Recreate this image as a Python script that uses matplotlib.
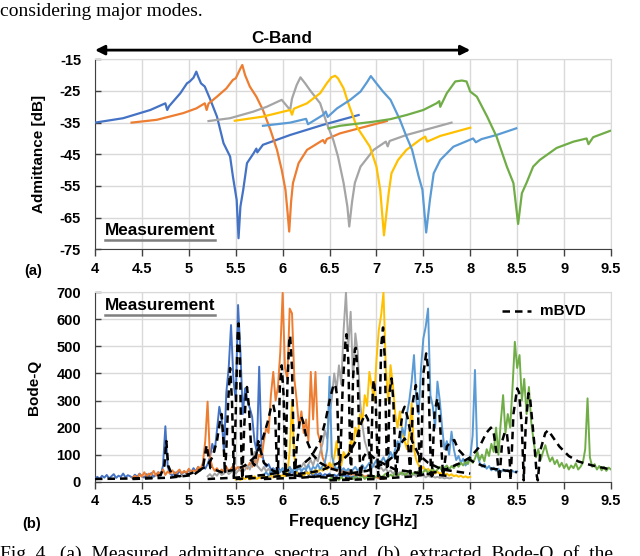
import numpy as np
import matplotlib
matplotlib.use('Agg')
import matplotlib.pyplot as plt

# ---------------- data ----------------
C_BLUE = '#4472C4'; C_ORANGE = '#ED7D31'; C_GRAY = '#A5A5A5'
C_YELLOW = '#FFC000'; C_LBLUE = '#5B9BD5'; C_GREEN = '#70AD47'

# (a) admittance [dB] vs frequency [GHz]
adm_f1 = [4.00, 4.30, 4.59, 4.75, 4.77, 4.79, 4.91, 4.98, 5.01, 5.05, 5.08, 5.10, 5.13, 5.17, 5.23, 5.30, 5.37, 5.44, 5.47, 5.51, 5.53, 5.55, 5.58, 5.62, 5.69, 5.72, 5.73, 5.79, 6.08, 6.43, 6.81]
adm_y1 = [-35.0, -33.6, -31.0, -28.9, -31.0, -29.8, -25.7, -22.6, -22.0, -20.8, -18.9, -20.5, -22.6, -23.6, -27.8, -33.1, -41.5, -45.7, -52.0, -59.4, -71.5, -61.5, -56.2, -47.8, -44.7, -43.2, -44.4, -42.0, -38.9, -35.7, -32.6]
adm_f2 = [4.39, 4.66, 4.94, 5.08, 5.17, 5.19, 5.21, 5.30, 5.40, 5.47, 5.50, 5.55, 5.57, 5.60, 5.65, 5.72, 5.79, 5.87, 5.94, 5.99, 6.03, 6.05, 6.07, 6.09, 6.11, 6.17, 6.26, 6.43, 6.45, 6.47, 6.61, 6.93, 7.11]
adm_y2 = [-35.0, -34.1, -32.0, -30.5, -28.9, -31.0, -29.0, -26.8, -24.2, -21.5, -21.0, -17.9, -16.8, -20.0, -23.6, -26.8, -31.0, -37.3, -43.6, -49.9, -56.2, -62.5, -69.4, -60.0, -54.1, -47.8, -43.6, -40.5, -41.5, -40.2, -38.4, -35.9, -34.5]
adm_f3 = [5.21, 5.44, 5.69, 5.83, 5.99, 6.08, 6.10, 6.15, 6.19, 6.24, 6.29, 6.40, 6.47, 6.54, 6.59, 6.65, 6.69, 6.71, 6.74, 6.77, 6.83, 6.97, 7.10, 7.12, 7.14, 7.32, 7.80]
adm_y3 = [-34.5, -33.6, -31.5, -30.0, -27.8, -31.0, -27.4, -23.1, -20.7, -22.6, -24.7, -28.9, -35.2, -40.5, -45.7, -54.1, -61.5, -67.8, -60.0, -54.0, -48.9, -43.6, -41.0, -42.5, -40.8, -38.9, -35.0]
adm_f4 = [5.49, 5.79, 6.08, 6.10, 6.12, 6.26, 6.40, 6.47, 6.52, 6.56, 6.59, 6.65, 6.70, 6.79, 6.93, 7.00, 7.04, 7.08, 7.13, 7.16, 7.23, 7.32, 7.46, 7.52, 7.54, 7.68, 8.00]
adm_y4 = [-34.4, -33.1, -31.0, -32.5, -30.6, -28.9, -25.7, -22.6, -20.7, -20.2, -21.0, -24.2, -28.9, -36.3, -42.6, -48.9, -56.2, -70.6, -57.3, -51.0, -46.8, -43.6, -40.5, -39.4, -41.0, -39.2, -36.6]
adm_f5 = [5.79, 6.08, 6.25, 6.27, 6.43, 6.46, 6.48, 6.58, 6.72, 6.83, 6.90, 6.94, 7.00, 7.07, 7.15, 7.25, 7.32, 7.38, 7.45, 7.49, 7.53, 7.57, 7.61, 7.68, 7.82, 8.03, 8.06, 8.12, 8.28, 8.49]
adm_y5 = [-36.0, -35.0, -33.8, -35.5, -32.6, -31.5, -33.2, -30.5, -27.8, -25.2, -22.2, -20.3, -22.6, -25.2, -27.8, -34.1, -39.4, -43.6, -52.0, -56.2, -69.7, -59.4, -51.0, -46.8, -42.6, -40.0, -41.2, -40.2, -38.9, -36.8]
adm_f6 = [6.49, 6.61, 6.97, 7.15, 7.32, 7.50, 7.64, 7.67, 7.68, 7.75, 7.84, 7.91, 7.96, 8.00, 8.07, 8.18, 8.28, 8.39, 8.46, 8.51, 8.55, 8.60, 8.67, 8.74, 8.92, 9.10, 9.24, 9.26, 9.31, 9.49]
adm_y6 = [-36.8, -36.0, -34.7, -33.9, -32.6, -31.0, -28.9, -28.2, -30.0, -25.7, -22.0, -21.7, -22.0, -25.2, -26.8, -33.1, -39.4, -48.9, -54.1, -67.0, -57.3, -54.0, -48.9, -46.8, -43.0, -41.0, -40.0, -41.8, -39.6, -37.6]

# (b) measured Bode-Q (sweep start, step, values)
q_step = 0.025
q1_start = 4.00
q1 = [12, 18, 10, 22, 15, 25, 12, 20, 28, 14, 22, 18, 30, 16, 24, 20, 14, 26, 18, 30,
      20, 15, 28, 22, 32, 18, 26, 35, 22, 60, 205, 55, 30, 22, 35, 25, 40, 28, 38, 30,
      45, 35, 50, 38, 55, 42, 60, 48, 65, 90, 140, 110, 190, 277, 230, 110, 330, 420, 579, 380,
      300, 653, 480, 250, 345, 300, 272, 240, 150, 110, 425, 120, 70, 55, 65, 45, 50, 38, 55, 40,
      48, 35, 45, 30, 42, 28, 38, 25, 35, 30, 40, 26, 34, 22, 30, 25, 32, 20, 28, 24,
      30, 18, 26, 20, 28, 16, 24, 20, 22, 15, 20, 18, 16]
q2_start = 4.40
q2 = [15, 22, 12, 28, 18, 35, 20, 30, 25, 40, 22, 35, 28, 45, 25, 38, 30, 42, 28, 36,
      45, 30, 40, 32, 48, 35, 42, 38, 55, 45, 70, 150, 296, 90, 55, 40, 50, 35, 45, 38,
      55, 40, 48, 60, 45, 55, 40, 50, 62, 48, 70, 55, 80, 65, 100, 90, 150, 200, 180, 320,
      406, 300, 350, 480, 698, 420, 380, 640, 622, 380, 300, 200, 260, 180, 230, 150, 406, 230, 406, 180,
      150, 90, 70, 55, 65, 45, 55, 40, 50, 35, 42, 30, 38, 25, 32, 22, 28, 20, 25, 18,
      22, 15, 20, 14, 18, 12, 16, 10, 14]
q3_start = 5.20
q3 = [20, 28, 18, 30, 22, 35, 25, 30, 40, 28, 35, 45, 30, 40, 50, 35, 45, 60, 45, 70,
      110, 60, 50, 40, 55, 38, 48, 35, 45, 30, 42, 35, 50, 38, 45, 55, 40, 50, 60, 45,
      55, 70, 50, 65, 80, 60, 90, 75, 110, 140, 190, 160, 250, 310, 400, 340, 430, 360, 560, 700,
      500, 628, 380, 548, 480, 300, 210, 150, 120, 85, 70, 55, 60, 45, 52, 40, 48, 35, 42, 30,
      38, 28, 35, 25, 32, 22, 30, 20, 28, 18, 25, 20, 24, 16, 22, 18, 20, 15, 18, 14,
      16, 12, 15, 12, 14]
q4_start = 5.50
q4 = [8, 12, 6, 15, 10, 18, 8, 14, 20, 10, 16, 12, 22, 14, 18, 25, 15, 20, 28, 18,
      25, 20, 35, 110, 296, 90, 35, 25, 30, 22, 35, 28, 40, 30, 45, 35, 50, 40, 55, 45,
      70, 55, 90, 150, 80, 60, 110, 90, 100, 150, 130, 200, 170, 250, 220, 320, 280, 406, 350, 300,
      450, 560, 616, 700, 420, 300, 431, 360, 250, 200, 260, 180, 150, 120, 180, 290, 120, 80, 60, 45,
      55, 40, 48, 35, 42, 30, 38, 28, 34, 25, 30, 22, 28, 20, 24, 18, 22, 16, 20, 15,
      18]
q5_start = 5.80
q5 = [25, 35, 22, 40, 28, 45, 30, 38, 50, 32, 42, 55, 35, 48, 40, 60, 38, 50, 45, 62,
      40, 55, 48, 65, 45, 58, 70, 120, 388, 95, 60, 45, 55, 40, 50, 38, 48, 35, 45, 55,
      40, 50, 62, 45, 58, 70, 50, 65, 80, 60, 75, 90, 70, 85, 110, 90, 120, 150, 130, 200,
      170, 250, 300, 370, 468, 300, 250, 420, 530, 573, 640, 320, 280, 200, 370, 300, 200, 120, 150, 100,
      185, 120, 80, 95, 70, 85, 60, 75, 90, 170, 413, 100, 70, 55, 65, 48, 58, 42, 52, 40,
      48, 35, 45, 38, 44, 32, 40, 35, 38]
q6_start = 6.50
q6 = [8, 15, 5, 12, 6, 18, 8, 14, 5, 16, 10, 20, 8, 15, 22, 10, 18, 12, 25, 14,
      20, 28, 15, 22, 30, 18, 26, 20, 32, 22, 28, 35, 24, 30, 38, 26, 34, 28, 40, 30,
      36, 45, 32, 40, 48, 35, 45, 55, 40, 52, 60, 45, 58, 50, 65, 55, 70, 60, 75, 65,
      90, 70, 85, 110, 80, 100, 75, 120, 95, 140, 110, 200, 100, 220, 320, 180, 250, 200, 346, 517,
      420, 468, 300, 380, 250, 350, 220, 150, 90, 120, 80, 110, 135, 100, 75, 90, 65, 80, 55, 70,
      50, 65, 45, 60, 50, 68, 45, 55, 70, 120, 308, 90, 55, 65, 45, 58, 42, 55, 40, 52,
      45]

# (b) mBVD model curves
m1_f = [4.00, 4.40, 4.60, 4.70, 4.74, 4.76, 4.78, 4.82, 4.90, 5.00, 5.10, 5.20, 5.25, 5.30, 5.33, 5.35, 5.37, 5.385, 5.40, 5.42, 5.44, 5.46, 5.48, 5.50, 5.52, 5.53, 5.545, 5.56, 5.57, 5.59, 5.61, 5.62, 5.64, 5.66, 5.68, 5.70, 5.72, 5.74, 5.76, 5.80, 5.90, 6.00, 6.20, 6.50, 6.80]
m1_q = [10, 12, 15, 25, 60, 150, 60, 25, 20, 28, 40, 60, 90, 150, 220, 250, 150, 30, 120, 300, 420, 300, 20, 250, 540, 585, 450, 100, 10, 200, 330, 350, 280, 150, 70, 60, 100, 150, 120, 70, 40, 30, 20, 15, 10]
m2_f = [4.40, 4.80, 5.05, 5.15, 5.19, 5.23, 5.35, 5.50, 5.60, 5.70, 5.78, 5.84, 5.88, 5.90, 5.92, 5.94, 5.95, 5.97, 5.99, 6.01, 6.03, 6.05, 6.07, 6.08, 6.10, 6.12, 6.13, 6.15, 6.18, 6.20, 6.22, 6.26, 6.32, 6.40, 6.50, 6.70, 7.10]
m2_q = [10, 15, 25, 50, 135, 50, 35, 45, 60, 90, 150, 220, 280, 285, 250, 50, 30, 350, 430, 320, 30, 350, 520, 540, 420, 100, 20, 130, 220, 240, 220, 150, 100, 70, 50, 30, 15]
m3_f = [5.20, 5.50, 5.80, 6.00, 6.20, 6.30, 6.40, 6.46, 6.50, 6.54, 6.56, 6.58, 6.60, 6.61, 6.64, 6.67, 6.68, 6.70, 6.72, 6.73, 6.75, 6.77, 6.78, 6.80, 6.82, 6.83, 6.86, 6.90, 7.00, 7.20, 7.50, 7.80]
m3_q = [10, 15, 25, 35, 60, 90, 150, 230, 300, 355, 360, 320, 100, 30, 350, 520, 545, 450, 100, 30, 380, 490, 495, 400, 100, 20, 90, 110, 80, 45, 30, 20]
m4_f = [5.50, 5.80, 6.10, 6.40, 6.60, 6.70, 6.78, 6.84, 6.88, 6.91, 6.93, 6.94, 6.96, 6.97, 6.99, 7.01, 7.02, 7.05, 7.07, 7.09, 7.11, 7.12, 7.14, 7.16, 7.18, 7.20, 7.21, 7.24, 7.28, 7.30, 7.33, 7.38, 7.45, 7.55, 7.70, 8.00]
m4_q = [10, 15, 25, 40, 70, 100, 150, 220, 250, 230, 80, 20, 330, 376, 320, 100, 20, 500, 570, 450, 60, 20, 330, 382, 300, 100, 20, 150, 260, 277, 240, 150, 100, 70, 45, 30]
m5_f = [5.80, 6.20, 6.60, 6.90, 7.10, 7.20, 7.26, 7.30, 7.34, 7.36, 7.39, 7.42, 7.44, 7.46, 7.47, 7.50, 7.53, 7.55, 7.58, 7.59, 7.62, 7.65, 7.67, 7.70, 7.71, 7.75, 7.80, 7.83, 7.87, 7.95, 8.05, 8.20, 8.50]
m5_q = [10, 15, 25, 40, 70, 100, 140, 160, 130, 30, 300, 357, 300, 50, 20, 400, 474, 420, 50, 20, 260, 308, 260, 80, 20, 130, 150, 154, 120, 90, 70, 50, 35]
m6_f = [6.50, 7.00, 7.40, 7.70, 7.90, 8.00, 8.10, 8.17, 8.22, 8.25, 8.29, 8.31, 8.34, 8.37, 8.39, 8.42, 8.43, 8.46, 8.50, 8.52, 8.55, 8.57, 8.59, 8.62, 8.64, 8.68, 8.71, 8.72, 8.75, 8.80, 8.83, 8.87, 8.95, 9.05, 9.15, 9.30, 9.50]
m6_q = [5, 10, 20, 40, 70, 90, 130, 180, 200, 180, 80, 5, 150, 185, 180, 80, 5, 250, 345, 330, 200, 5, 200, 327, 300, 150, 20, 5, 120, 180, 190, 170, 130, 95, 75, 60, 45]

x_ticks = [4, 4.5, 5, 5.5, 6, 6.5, 7, 7.5, 8, 8.5, 9, 9.5]
x_labels = ['4', '4.5', '5', '5.5', '6', '6.5', '7', '7.5', '8', '8.5', '9', '9.5']
adm_ticks = [-75, -65, -55, -45, -35, -25, -15]
q_ticks = [0, 100, 200, 300, 400, 500, 600, 700]

# ---------------- figure ----------------
SANS = ['Liberation Sans', 'DejaVu Sans']
SERIF = ['Liberation Serif', 'DejaVu Serif']
plt.rcParams['font.family'] = SANS
plt.rcParams['font.weight'] = 'bold'

W, H = 640, 556
fig = plt.figure(figsize=(W / 100, H / 100), dpi=100)

def fx(px):
    return px / W

def fy(py):
    return 1 - py / H

L, R = 95, 611
ax1 = fig.add_axes([fx(L), fy(249.3), fx(R - L), (249.3 - 59.3) / H])
ax2 = fig.add_axes([fx(L), fy(481.7), fx(R - L), (481.7 - 292.3) / H])

GRID = '#D9D9D9'
for ax in (ax1, ax2):
    ax.set_xlim(4, 9.5)
    ax.set_xticks(x_ticks)
    ax.set_xticklabels(x_labels)
    ax.grid(True, color=GRID, lw=1.0, zorder=0)
    ax.set_axisbelow(True)
    ax.spines['top'].set_color(GRID)
    ax.spines['right'].set_color(GRID)
    ax.spines['left'].set_color('#404040')
    ax.spines['bottom'].set_color('#404040')
    ax.tick_params(axis='x', direction='out', length=5, width=1, color='#404040',
                   labelsize=10.5, pad=4)
    ax.tick_params(axis='y', direction='in', length=4, width=1, color='#404040',
                   labelsize=10.5, pad=10)

# ---- (a) admittance
ax1.set_ylim(-75, -15)
ax1.set_yticks(adm_ticks)
ax1.set_yticklabels([str(t) for t in adm_ticks])
lw_a = 1.6
ax1.plot(adm_f1, adm_y1, color=C_BLUE, lw=lw_a, zorder=3)
ax1.plot(adm_f2, adm_y2, color=C_ORANGE, lw=lw_a, zorder=3)
ax1.plot(adm_f3, adm_y3, color=C_GRAY, lw=lw_a, zorder=3)
ax1.plot(adm_f4, adm_y4, color=C_YELLOW, lw=lw_a, zorder=3)
ax1.plot(adm_f5, adm_y5, color=C_LBLUE, lw=lw_a, zorder=3)
ax1.plot(adm_f6, adm_y6, color=C_GREEN, lw=lw_a, zorder=3)
ax1.set_ylabel('Admittance [dB]', fontsize=11, fontweight='bold', labelpad=10)

ax1.annotate('', xy=(8.0, -12.1), xytext=(4.0, -12.1), xycoords='data',
             arrowprops=dict(arrowstyle='<|-|>', color='black', lw=2, mutation_scale=14,
                             shrinkA=0, shrinkB=0), annotation_clip=False)
ax1.text(5.99, -8.3, 'C-Band', ha='center', va='center', fontsize=12.3, fontweight='bold')

ax1.text(0.02, 0.098, 'Measurement', transform=ax1.transAxes, ha='left', va='center',
         fontsize=12.3, fontweight='bold', zorder=5)
ax1.plot([0.02, 0.233], [0.048, 0.048], transform=ax1.transAxes, color='#7F7F7F', lw=1.8,
         clip_on=False, zorder=5)

# ---- (b) Bode-Q
ax2.set_ylim(0, 700)
ax2.set_yticks(q_ticks)
ax2.set_yticklabels([str(t) for t in q_ticks])
lw_q = 1.4
for start, q, c in [(q1_start, q1, C_BLUE), (q2_start, q2, C_ORANGE), (q3_start, q3, C_GRAY),
                    (q4_start, q4, C_YELLOW), (q5_start, q5, C_LBLUE), (q6_start, q6, C_GREEN)]:
    f = start + q_step * np.arange(len(q))
    ax2.plot(f, q, color=c, lw=lw_q, zorder=3)
for mf, mq in [(m1_f, m1_q), (m2_f, m2_q), (m3_f, m3_q), (m4_f, m4_q), (m5_f, m5_q), (m6_f, m6_q)]:
    ax2.plot(mf, mq, color='black', lw=1.8, ls=(0, (3, 2)), zorder=4)
ax2.set_ylabel('Bode-Q', fontsize=11, fontweight='bold', labelpad=11)
ax2.set_xlabel('Frequency [GHz]', fontsize=11.5, fontweight='bold', labelpad=4)

ax2.text(0.02, 0.928, 'Measurement', transform=ax2.transAxes, ha='left', va='center',
         fontsize=12.3, fontweight='bold', zorder=5)
ax2.plot([0.02, 0.233], [0.878, 0.878], transform=ax2.transAxes, color='#7F7F7F', lw=1.8,
         clip_on=False, zorder=5)
ax2.plot([0.789, 0.845], [0.901, 0.901], transform=ax2.transAxes, color='black', lw=1.8,
         ls=(0, (3, 2)), zorder=5)
ax2.text(0.862, 0.901, 'mBVD', transform=ax2.transAxes, ha='left', va='center',
         fontsize=11, fontweight='bold', zorder=5)

# panel tags and captions
fig.text(fx(33), fy(271), '(a)', ha='center', va='center', fontsize=10.5, fontweight='bold')
fig.text(fx(32), fy(524), '(b)', ha='center', va='center', fontsize=10.5, fontweight='bold')
fig.text(0.0, fy(16), 'considering major modes.', ha='left', va='baseline',
         fontsize=14, family=SERIF, fontweight='normal')
fig.text(0.0, fy(559), 'Fig. 4.  (a)  Measured  admittance  spectra  and  (b)  extracted  Bode-Q  of  the',
         ha='left', va='baseline', fontsize=14, family=SERIF, fontweight='normal')

fig.savefig('out.png', dpi=100)
